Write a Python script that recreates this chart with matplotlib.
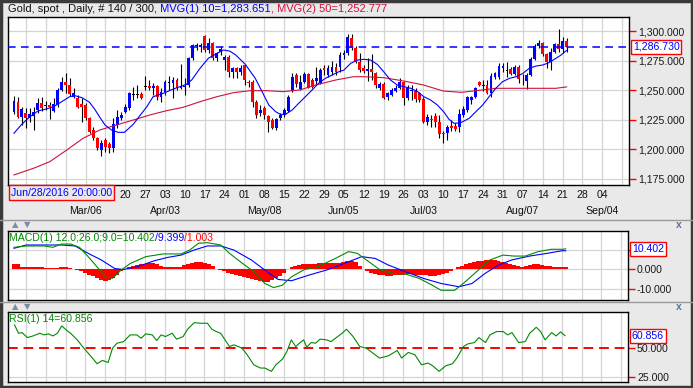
import matplotlib
matplotlib.use('Agg')
import matplotlib.pyplot as plt
from matplotlib.patches import Rectangle
from matplotlib.lines import Line2D

# ---------------- data ----------------
opens = [
    1232.0, 1239.8, 1227.6, 1230.5, 1226.8, 1228.5, 1233.3, 1238.9, 1236.4, 1237.5,
    1232.4, 1237.5, 1250.2, 1256.6, 1254.4, 1244.5, 1243.7, 1238.0, 1237.5, 1226.8,
    1216.4, 1209.3, 1199.5, 1207.9, 1204.3, 1201.5, 1220.6, 1226.8, 1231.9, 1235.2,
    1246.8, 1246.0, 1246.5, 1252.7, 1253.5, 1251.6, 1253.5, 1244.5, 1248.8, 1256.6,
    1255.8, 1258.6, 1252.0, 1253.0, 1254.4, 1277.5, 1287.6, 1286.8, 1295.8, 1284.0,
    1289.6, 1277.5, 1282.0, 1275.5, 1278.3, 1265.1, 1268.5, 1265.1, 1271.3, 1257.0,
    1257.2, 1239.8, 1231.0, 1235.2, 1228.5, 1224.8, 1217.8, 1226.2, 1229.1, 1232.4,
    1249.6, 1262.8, 1251.0, 1257.2, 1263.4, 1258.6, 1257.8, 1255.8, 1269.0, 1262.8,
    1265.6, 1269.9, 1269.9, 1279.7, 1281.1, 1294.0, 1285.9, 1273.5, 1269.0, 1266.2,
    1267.9, 1264.2, 1251.6, 1255.0, 1244.5, 1245.9, 1249.3, 1252.1, 1256.6, 1243.7,
    1249.3, 1249.3, 1247.4, 1242.6, 1223.4, 1226.0, 1228.5, 1223.4, 1214.0, 1213.6,
    1220.0, 1219.7, 1219.0, 1229.1, 1233.3, 1241.7, 1244.0, 1257.2, 1253.5, 1254.4,
    1247.9, 1261.4, 1261.4, 1268.5, 1266.5, 1267.6, 1263.7, 1269.9, 1259.7, 1258.0,
    1262.8, 1276.1, 1287.3, 1289.6, 1280.6, 1274.1, 1282.5, 1289.0, 1284.5, 1291.8,
]
highs = [
    1245.4, 1244.5, 1236.0, 1234.7, 1234.7, 1236.0, 1243.7, 1244.5, 1240.9, 1239.8,
    1243.1, 1251.6, 1261.4, 1264.2, 1260.6, 1251.6, 1246.0, 1243.0, 1238.9, 1227.6,
    1219.2, 1210.8, 1207.9, 1209.3, 1206.5, 1226.2, 1233.3, 1231.9, 1238.1, 1248.8,
    1253.0, 1254.4, 1248.8, 1262.3, 1258.6, 1255.8, 1254.4, 1251.6, 1258.6, 1262.3,
    1261.4, 1260.0, 1271.8, 1260.0, 1278.3, 1288.7, 1289.6, 1289.6, 1296.6, 1293.8,
    1291.0, 1282.5, 1287.6, 1279.7, 1279.7, 1269.9, 1269.9, 1271.3, 1271.8, 1258.6,
    1258.6, 1241.7, 1237.5, 1236.9, 1229.1, 1226.2, 1226.8, 1230.5, 1234.7, 1246.0,
    1264.2, 1264.2, 1262.8, 1265.6, 1264.2, 1260.0, 1269.9, 1269.0, 1271.3, 1271.3,
    1274.7, 1272.7, 1282.0, 1284.0, 1297.2, 1297.5, 1287.6, 1281.1, 1271.3, 1276.9,
    1281.0, 1265.6, 1257.2, 1257.2, 1248.8, 1251.6, 1254.4, 1260.0, 1257.8, 1254.4,
    1254.4, 1251.6, 1248.8, 1244.5, 1229.6, 1229.0, 1230.5, 1229.0, 1215.5, 1220.6,
    1224.8, 1222.0, 1234.0, 1236.6, 1245.1, 1245.1, 1253.0, 1258.0, 1258.6, 1258.6,
    1264.8, 1265.6, 1272.7, 1272.7, 1274.0, 1269.9, 1271.3, 1271.3, 1264.0, 1264.2,
    1277.8, 1289.0, 1292.4, 1291.0, 1281.7, 1286.0, 1290.1, 1301.4, 1295.2, 1293.8,
]
lows = [
    1229.6, 1226.2, 1220.6, 1217.8, 1223.4, 1216.4, 1230.5, 1232.4, 1233.3, 1225.7,
    1231.3, 1236.1, 1249.3, 1247.4, 1245.4, 1243.1, 1234.7, 1223.4, 1224.8, 1213.6,
    1207.9, 1199.5, 1194.7, 1198.1, 1196.7, 1197.5, 1217.8, 1224.8, 1230.5, 1233.0,
    1241.7, 1243.7, 1242.6, 1250.2, 1250.2, 1245.9, 1241.7, 1239.8, 1245.9, 1250.2,
    1243.1, 1250.2, 1251.0, 1246.0, 1253.0, 1275.5, 1284.0, 1282.0, 1282.5, 1281.1,
    1275.5, 1274.7, 1279.7, 1267.0, 1261.4, 1260.0, 1260.6, 1262.8, 1254.4, 1253.0,
    1236.1, 1226.2, 1228.5, 1225.7, 1214.4, 1217.2, 1216.4, 1224.8, 1227.6, 1231.3,
    1248.8, 1253.0, 1250.2, 1255.8, 1251.6, 1251.6, 1255.0, 1255.0, 1262.8, 1261.4,
    1262.8, 1262.8, 1265.6, 1276.0, 1279.7, 1284.0, 1272.7, 1265.6, 1264.2, 1257.7,
    1258.6, 1251.6, 1250.2, 1242.6, 1241.7, 1245.0, 1248.5, 1251.0, 1237.5, 1241.7,
    1241.7, 1240.0, 1239.8, 1222.0, 1220.6, 1218.9, 1218.9, 1209.3, 1205.0, 1208.0,
    1215.5, 1215.5, 1215.0, 1227.6, 1232.0, 1238.0, 1243.0, 1253.5, 1249.3, 1246.8,
    1244.5, 1259.5, 1259.5, 1265.6, 1261.4, 1262.8, 1262.8, 1255.8, 1254.4, 1250.7,
    1262.0, 1275.5, 1285.4, 1278.9, 1268.5, 1267.1, 1281.7, 1282.5, 1281.7, 1282.5,
]
closes = [
    1240.9, 1227.6, 1234.1, 1226.2, 1229.6, 1231.3, 1238.9, 1234.7, 1237.5, 1235.8,
    1238.3, 1250.2, 1256.6, 1254.4, 1246.5, 1247.4, 1236.1, 1236.0, 1226.8, 1214.4,
    1209.3, 1200.9, 1205.1, 1202.3, 1201.5, 1221.2, 1227.6, 1229.1, 1236.1, 1247.4,
    1246.2, 1246.3, 1243.1, 1253.0, 1251.6, 1253.5, 1244.5, 1248.8, 1256.6, 1256.8,
    1258.6, 1251.6, 1253.0, 1253.8, 1277.5, 1288.2, 1287.9, 1288.2, 1284.0, 1289.6,
    1276.9, 1281.1, 1284.8, 1278.3, 1265.1, 1268.5, 1265.1, 1268.5, 1258.6, 1256.0,
    1239.8, 1229.1, 1233.5, 1229.1, 1223.4, 1217.8, 1225.7, 1229.1, 1233.3, 1244.5,
    1261.4, 1255.0, 1256.6, 1263.4, 1252.1, 1253.0, 1260.6, 1267.0, 1267.0, 1269.0,
    1269.9, 1265.6, 1279.7, 1281.6, 1295.2, 1286.0, 1273.5, 1267.0, 1266.5, 1267.9,
    1265.6, 1254.4, 1255.0, 1243.7, 1247.4, 1250.2, 1252.1, 1257.2, 1243.7, 1251.6,
    1250.2, 1242.6, 1241.7, 1223.4, 1227.6, 1225.0, 1223.4, 1212.8, 1213.0, 1219.2,
    1217.8, 1217.2, 1230.0, 1233.8, 1244.0, 1244.0, 1251.6, 1254.4, 1254.4, 1247.9,
    1262.0, 1264.2, 1270.4, 1270.4, 1267.0, 1263.7, 1269.3, 1259.2, 1259.2, 1262.8,
    1276.1, 1287.3, 1289.6, 1280.6, 1274.1, 1282.5, 1289.0, 1284.5, 1291.8, 1286.73,
]

ma10_k = [1, 2.8, 5, 7, 9.1, 11, 13, 15, 16.3, 18.1, 20, 21.3, 22.5, 23.9, 25.5,
          27.2, 28.8, 31, 34.4, 36, 38.6, 41.1, 44.4, 45.7, 47.8, 49.9, 52, 53.7, 55.3, 56.8,
          59.2, 61.7, 63.4, 65.1, 66.8, 68, 69.3, 71, 72.6, 74.3, 76, 77.6, 79.3, 81, 82.7,
          84, 85.7, 87.4, 89, 90.7, 92.4, 94, 95.7, 97.4, 99.1, 100.8, 102.5, 104.1, 105.8, 107.5,
          109.2, 110.4, 111.7, 113.3, 115.5, 117.2, 118.9, 120.5, 122.2, 123.9, 125.6, 127.3, 129,
          130.6, 132.3, 134, 135.6, 137.3, 138.6, 140]
ma10_v = [1213.6, 1220.6, 1227.6, 1232.4, 1234.1, 1236.1, 1240.3, 1244.5, 1245.4, 1243.7,
          1239.8, 1234.0, 1227.6, 1220.6, 1216.4, 1214.4, 1214.4, 1221.2, 1236.0, 1244.5,
          1247.4, 1251.0, 1255.0, 1258.6, 1268.5, 1277.0, 1281.0, 1284.0, 1283.0, 1279.7,
          1271.8, 1260.0, 1248.8, 1237.5, 1231.9, 1229.6, 1229.6, 1233.3, 1238.9, 1244.5,
          1250.2, 1255.8, 1260.0, 1262.8, 1265.6, 1267.0, 1272.7, 1275.5, 1276.1, 1275.5,
          1271.8, 1265.6, 1258.6, 1254.4, 1253.0, 1251.6, 1248.8, 1244.5, 1241.7, 1237.5,
          1231.3, 1225.5, 1222.0, 1222.5, 1226.2, 1231.9, 1237.5, 1244.5, 1251.6, 1257.2,
          1260.0, 1261.4, 1264.2, 1268.5, 1270.4, 1271.3, 1273.3, 1276.9, 1279.7, 1283.65]

ma50_k = [1, 5.9, 10, 14.3, 18.4, 22.6, 26.8, 31, 35.2, 39.4, 43.6, 47.8, 52, 56.2, 60.4,
          64.6, 68.7, 72.9, 76.9, 81.9, 86.4, 89, 94, 99, 104, 109, 113.6, 117.2, 122.2,
          127.3, 132.3, 137.3, 140]
ma50_v = [1178.4, 1184.0, 1189.6, 1199.5, 1209.4, 1216.4, 1220.6, 1224.8, 1229.1, 1232.7,
          1235.6, 1240.3, 1244.5, 1247.9, 1249.6, 1249.6, 1248.8, 1250.2, 1254.4, 1258.6,
          1261.4, 1261.4, 1260.6, 1257.8, 1254.4, 1249.3, 1248.2, 1249.6, 1251.6, 1251.6,
          1251.6, 1251.6, 1252.78]

macd_k = [1, 4.1, 8.6, 10.8, 13, 15.3, 17.5, 19.7, 21.9, 24.1, 25.8, 28, 30.3, 34.2, 38.6,
          43.1, 45.3, 47.5, 49.7, 53.1, 55.3, 58.6, 62, 64.2, 66.4, 68.6, 70.9, 74.2, 77.5, 82,
          85.3, 87.5, 89.8, 93.1, 96.4, 99.7, 103.1, 106.4, 108.6, 112, 114.2, 117.5, 120.9,
          124.2, 127, 129.8, 133.1, 136.4, 139.2, 140]
macd_v = [11.2, 11.9, 11.9, 11.2, 12.9, 12.9, 11.2, 6.4, 1.2, -4.0, -4.8, -0.5, 2.9, 6.4, 7.8,
          7.8, 9.8, 13.3, 13.6, 12.4, 8.1, 2.9, -2.2, -7.4, -9.5, -8.3, -4.0, -0.2, 1.2, 5.5,
          9.0, 8.1, 4.7, -0.2, -2.2, -2.6, -4.8, -8.3, -10.9, -10.9, -7.4, -1.4, 4.7, 7.2,
          6.7, 6.7, 9.0, 10.2, 10.2, 10.402]
sig_k = [1, 4.1, 8.6, 13, 16.4, 19.7, 23, 26.4, 28.6, 32, 36.4, 39.7, 43.1, 46.4, 49.7,
         53.1, 56.4, 60.8, 64.2, 67.5, 70.9, 75.3, 79.7, 84.2, 88.6, 92, 95.3, 99.7, 104.2,
         108.6, 113.1, 116.4, 119.7, 123.1, 126.4, 130.9, 135.3, 139.2, 140]
sig_v = [10.7, 12.4, 12.4, 12.4, 11.9, 8.1, 4.7, 0.3, -0.2, 1.2, 4.3, 6.0, 7.2, 9.8, 11.9,
         11.9, 9.8, 4.7, -0.5, -5.3, -6.0, -3.1, -0.5, 2.9, 6.4, 5.5, 2.1, -1.4, -4.8,
         -7.4, -9.1, -7.4, -2.2, 2.1, 4.7, 6.7, 8.1, 9.5, 9.399]
hist_v = [
    2.6, 2.4, 1.2, 1.0, 1.0, 1.0, 1.1, 1.0, 0.6, 0.4,
    0.5, 0.8, 1.0, 1.0, 0.7, 0.1, -0.3, -1.2, -2.0, -3.0,
    -3.8, -4.8, -5.6, -6.0, -5.6, -4.6, -2.8, -1.2, 0.3, 1.0,
    1.8, 2.3, 2.6, 2.8, 2.9, 3.0, 2.6, 1.8, 1.3, 1.0,
    0.9, 0.9, 1.2, 2.0, 2.6, 3.0, 3.4, 3.5, 3.2, 2.6,
    1.5, 0.3, -0.5, -1.2, -1.8, -2.3, -2.8, -3.4, -4.0, -4.6,
    -5.2, -5.8, -6.2, -6.5, -6.7, -5.8, -4.8, -3.4, -1.8, 0.0,
    1.2, 1.7, 2.0, 2.4, 2.6, 2.7, 2.8, 2.9, 3.0, 3.0,
    3.0, 3.1, 3.3, 3.6, 4.0, 4.2, 3.6, 1.8, 0.3, -0.9,
    -1.8, -2.3, -2.8, -3.2, -3.4, -3.4, -3.2, -2.9, -2.8, -2.7,
    -2.7, -2.8, -2.9, -3.0, -3.2, -3.4, -3.4, -3.0, -2.4, -1.8,
    -1.0, 0.0, 0.9, 1.8, 2.5, 3.0, 3.5, 4.0, 4.3, 4.5,
    4.6, 4.5, 4.2, 3.8, 3.2, 2.6, 2.0, 1.5, 1.2, 1.5,
    2.2, 2.6, 2.6, 2.3, 1.8, 1.5, 1.3, 1.2, 1.1, 1.0,
]

rsi_k = [1.15, 2.15, 3.04, 4.37, 5.82, 7.49, 8.6, 9.71, 10.82, 11.94, 13.05, 14.16, 15.27,
         16.94, 18.61, 20.28, 21.94, 23.28, 24.72, 25.84, 26.95, 28.62, 30.28, 31.95, 33.06,
         34.18, 35.84, 36.96, 38.07, 39.18, 40.85, 41.96, 43.63, 44.74, 46.41, 48.08, 49.74,
         50.86, 51.97, 53.08, 54.19, 55.3, 56.42, 57.53, 58.42, 59.75, 61.42, 63.09, 64.2,
         65.87, 66.98, 68.65, 69.76, 70.87, 71.98, 73.1, 73.99, 74.76, 75.88, 76.99, 78.1,
         79.77, 80.88, 81.99, 83.66, 84.77, 86.44, 88.11, 89.78, 91.44, 93.11, 95.34, 97.56,
         98.67, 100.34, 102.01, 103.68, 105.34, 106.46, 108.12, 109.79, 111.46, 112.57,
         114.24, 115.35, 117.02, 118.13, 119.8, 120.91, 122.58, 124.25, 125.36, 126.47,
         128.14, 129.81, 130.92, 132.59, 133.7, 134.81, 136.48, 137.59, 138.7, 139.82]
rsi_v = [70.1, 62.9, 63.5, 59.2, 60.6, 62.9, 61.5, 62.4, 60.6, 62.9, 69.3, 65.8, 62.9,
         57.2, 50.0, 43.4, 36.5, 39.4, 37.6, 50.0, 54.3, 55.7, 61.5, 61.5, 58.6,
         62.4, 61.5, 56.6, 61.5, 60.1, 62.9, 57.8, 60.1, 66.4, 72.1, 71.6, 71.6,
         66.4, 64.4, 62.9, 57.2, 51.4, 52.9, 51.4, 50.0, 44.3, 35.6, 32.8, 32.8,
         29.9, 35.6, 40.5, 47.1, 57.2, 51.4, 54.9, 57.2, 50.9, 54.9, 54.3, 57.8,
         57.2, 55.7, 58.6, 62.9, 66.4, 60.1, 51.4, 50.0, 45.7, 41.4, 43.4, 48.0,
         41.4, 46.3, 44.3, 35.6, 37.1, 34.8, 29.9, 34.8, 36.5, 41.4,
         51.4, 53.7, 54.9, 59.2, 54.9, 61.5, 64.4, 64.4, 61.5, 63.5,
         54.9, 55.7, 62.9, 68.1, 64.4, 57.2, 63.5, 60.6, 64.1, 60.856]

day_labels = ['20', '27', '03', '10', '17', '24', '01', '08', '15', '22', '29', '05', '12',
              '19', '26', '03', '10', '17', '24', '31', '07', '14', '21', '28', '04']
day_bars = [29 + 5 * i for i in range(len(day_labels))]
month_labels = ['Mar/06', 'Apr/03', 'May/08', 'Jun/05', 'Jul/03', 'Aug/07', 'Sep/04']
month_bars = [19, 39, 64, 84, 104, 129, 149]
grid_bars = [4 + 5 * i for i in range(31)]

price_ticks = [1175, 1200, 1225, 1250, 1275, 1300]
last_price = 1286.73

# ---------------- layout ----------------
W, H = 693, 388
FONT = ['Liberation Sans', 'DejaVu Sans']
FS = 7.6
BG = '#E9E9E9'
GRID = '#D4D4D4'
BLUE = '#0000FF'
RED = '#FF0000'
CRIMSON = '#D0103A'
GREEN = '#008A00'
LW = 0.8

plt.rcParams['font.family'] = FONT

fig = plt.figure(figsize=(W / 100, H / 100), dpi=100)
fig.patch.set_facecolor(BG)


def fx(x):
    return x / W


def fy(y):
    return 1 - y / H


def add_ax(x0, y0, x1, y1):
    ax = fig.add_axes([fx(x0), fy(y1), fx(x1) - fx(x0), fy(y0) - fy(y1)])
    ax.set_facecolor('white')
    for s in ax.spines.values():
        s.set_color('black')
        s.set_linewidth(1.0)
    ax.set_xlim(-0.5, 155.7)
    for g in grid_bars:
        ax.axvline(g, color=GRID, lw=0.9, zorder=0)
    ax.yaxis.tick_right()
    ax.tick_params(axis='y', colors=RED, labelcolor='#1A1A1A', length=5, width=1,
                   pad=1.5, labelsize=FS)
    ax.tick_params(axis='x', bottom=False, labelbottom=False)
    return ax


# ---------- main price panel ----------
ax = add_ax(8, 17.3, 629, 185)
ax.set_ylim(1169.9, 1311.6)
for t in price_ticks:
    ax.axhline(t, color=GRID, lw=0.9, zorder=0)
ax.set_yticks(price_ticks)
ax.set_yticklabels([f'{t:,.3f}' for t in price_ticks])

for i in range(len(closes)):
    k = i + 1
    o, h, l, c = opens[i], highs[i], lows[i], closes[i]
    ax.vlines(k, l, h, color='black', lw=0.8, zorder=2)
    col = BLUE if c >= o else RED
    lo, hi = min(o, c), max(o, c)
    if hi - lo < 0.6:
        mid = (hi + lo) / 2
        lo, hi = mid - 0.3, mid + 0.3
        col = 'black'
    ax.bar(k, hi - lo, bottom=lo, width=0.72, color=col, lw=0, zorder=2.5)

ax.plot(ma50_k, ma50_v, color=CRIMSON, lw=LW, zorder=3)
ax.plot(ma10_k, ma10_v, color=BLUE, lw=LW, zorder=3)
ax.axhline(last_price, color=BLUE, lw=1.1, dashes=(5, 3.5), zorder=3.5)
ax.text(1.006, last_price, f'{last_price:,.3f}', transform=ax.get_yaxis_transform(),
        color=BLUE, fontsize=FS, va='center', ha='left', zorder=10,
        bbox=dict(boxstyle='square,pad=0.18', fc='white', ec=RED, lw=1.0))


def bar_px(k):
    return 14 + (k - 1) * 3.975


for lab, k in zip(day_labels, day_bars):
    fig.text(fx(bar_px(k)), fy(195.5), lab, ha='center', va='center', fontsize=FS, color='#111111')
for lab, k in zip(month_labels, month_bars):
    fig.text(fx(bar_px(k)), fy(211.5), lab, ha='center', va='center', fontsize=FS, color='#111111')

fig.text(fx(11), fy(192.5), 'Jun/28/2016 20:00:00', ha='left', va='center', fontsize=FS,
         color=BLUE, bbox=dict(boxstyle='square,pad=0.2', fc=BG, ec=RED, lw=1.0))

# ---------- MACD panel ----------
ax2 = add_ax(8, 231, 628, 300)
ax2.set_ylim(-15.9, 19.6)
for t in [-10, 0, 10]:
    ax2.axhline(t, color=GRID, lw=0.9, zorder=0)
ax2.set_yticks([-10, 0, 10])
ax2.set_yticklabels(['-10.000', '0.000', ''])
ax2.bar(range(1, len(hist_v) + 1), hist_v, width=1.15, color=RED, lw=0, zorder=2)
ax2.plot(sig_k, sig_v, color=BLUE, lw=LW, zorder=3)
ax2.plot(macd_k, macd_v, color=GREEN, lw=LW, zorder=3)
ax2.text(1.006, 10.402, '10.402', transform=ax2.get_yaxis_transform(), color=BLUE,
         fontsize=FS, va='center', ha='left', zorder=10,
         bbox=dict(boxstyle='square,pad=0.18', fc='white', ec=RED, lw=1.0))

# ---------- RSI panel ----------
ax3 = add_ax(8, 311.7, 628, 382)
ax3.set_ylim(20.7, 81.6)
ax3.axhline(25, color=GRID, lw=0.9, zorder=0)
ax3.set_yticks([25, 50])
ax3.set_yticklabels(['25.000', '50.000'])
ax3.axhline(50, color=RED, lw=1.4, dashes=(5, 3), zorder=2)
ax3.plot(rsi_k, rsi_v, color=GREEN, lw=LW, zorder=3)
ax3.text(1.006, 60.856, '60.856', transform=ax3.get_yaxis_transform(), color=BLUE,
         fontsize=FS, va='center', ha='left', zorder=10,
         bbox=dict(boxstyle='square,pad=0.18', fc='white', ec=RED, lw=1.0))

# ---------- header texts ----------
renderer = fig.canvas.get_renderer()


def seq_text(x, y, parts, size):
    for s, c in parts:
        t = fig.text(fx(x), fy(y), s, color=c, fontsize=size, ha='left', va='center')
        bb = t.get_window_extent(renderer=renderer)
        x += bb.width


seq_text(8, 9, [('Gold, spot , Daily, # 140 / 300,', '#111111'),
                (' MVG(1) 10=1,283.651', BLUE),
                (', MVG(2) 50=1,252.777', CRIMSON)], FS + 0.4)
seq_text(9, 237.5, [('MACD(1) 12.0;26.0;9.0=10.402', GREEN), ('/9.399', BLUE), ('/1.003', RED)], FS)
seq_text(9, 318.5, [('RSI(1) 14=60.856', GREEN)], FS)

# ---------- strips, separators, frame ----------
for yy in (219.5, 301.5):
    fig.add_artist(Line2D([0, 1], [fy(yy), fy(yy)], color='#9A9A9A', lw=1.0))
for yy in (224.5, 306.5):
    fig.text(fx(15), fy(yy), '\u25B2', color='#7A8CA8', fontsize=6, ha='center', va='center',
             family='DejaVu Sans')
    fig.text(fx(27), fy(yy), '\u25BC', color='#7A8CA8', fontsize=6, ha='center', va='center',
             family='DejaVu Sans')
    fig.text(fx(679), fy(yy), 'x', color='#5E7496', fontsize=7.5, fontweight='bold',
             ha='center', va='center')

fig.add_artist(Rectangle((0.001, 0.002), 0.998, 0.996, transform=fig.transFigure,
                         fill=False, ec='#3A3A3A', lw=2.5))

fig.savefig('out.png', dpi=100, facecolor=fig.get_facecolor())
